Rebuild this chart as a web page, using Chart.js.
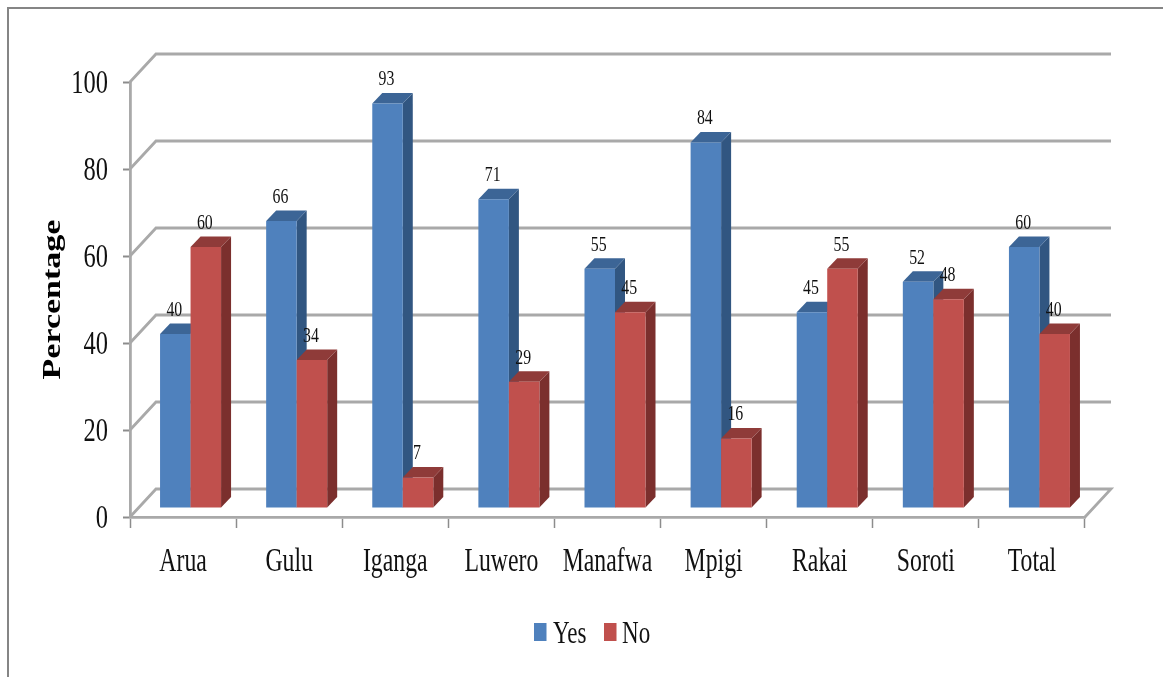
<!DOCTYPE html>
<html>
<head>
<meta charset="utf-8">
<script src="https://cdn.jsdelivr.net/npm/chart.js@4/dist/chart.umd.min.js"></script>
<style>
    html, body { margin: 0; padding: 0; background: #fff; }
    #wrap { width: 1163px; height: 677px; }
</style>
</head>
<body>
<div id="wrap"><canvas id="bars"></canvas></div>
<script>
const districts = ["Arua", "Gulu", "Iganga", "Luwero", "Manafwa", "Mpigi", "Rakai", "Soroti", "Total"];
const yesValues = [40, 66, 93, 71, 55, 84, 45, 52, 60];
const noValues = [60, 34, 7, 29, 45, 16, 55, 48, 40];

const FONT = "'Liberation Serif', serif";
const C_GRID = "#a9a9a9";
const C_FRAME = "#858585";
const YES = { front: "#4f81bd", side: "#315681", top: "#3c6596" };
const NO = { front: "#c0504d", side: "#7b2f2d", top: "#8f3b39" };

// the type is set narrow: every string is squeezed across the page
const SQUEEZE = 0.72;
// depth of the floor and walls, and of a single bar
const WALL_DX = 26, WALL_DY = 28;
const BAR_DX = 10, BAR_DY = 10.5;
// bars stand on the floor, a little behind the front axis
const BAR_SHIFT_X = 7.5, BAR_SHIFT_Y = 9;

const canvas = document.getElementById("bars");
const ctx = canvas.getContext("2d");

const rawFillText = ctx.fillText;
const rawMeasureText = ctx.measureText;
ctx.fillText = function (text, x, y) {
    this.save();
    this.translate(x, y);
    const rotated = Math.abs(this.getTransform().b) > 0.5;
    if (rotated) this.scale(1, SQUEEZE);
    else this.scale(SQUEEZE, 1);
    rawFillText.call(this, text, 0, 0);
    this.restore();
};
ctx.measureText = function (text) {
    return { width: rawMeasureText.call(this, text).width * SQUEEZE };
};

function poly(c, color, pts) {
    c.fillStyle = color;
    c.beginPath();
    pts.forEach(([x, y], i) => i ? c.lineTo(x, y) : c.moveTo(x, y));
    c.closePath();
    c.fill();
}

function drawFrame(c) {
    c.strokeStyle = C_FRAME;
    c.lineWidth = 2;
    c.beginPath();
    c.moveTo(8, 677);
    c.lineTo(8, 8);
    c.lineTo(1163, 8);
    c.stroke();
}

// back wall lines with their return to the front axis, plus the floor edge
function drawWalls(chart) {
    const c = chart.ctx;
    const { left, right } = chart.chartArea;
    const y = chart.scales.y;
    c.save();
    c.strokeStyle = C_GRID;
    c.lineWidth = 2.8;
    y.ticks.forEach(t => {
        const py = y.getPixelForValue(t.value);
        c.beginPath();
        c.moveTo(left, py);
        c.lineTo(left + WALL_DX, py - WALL_DY);
        c.lineTo(right + WALL_DX, py - WALL_DY);
        if (t.value === 0) c.lineTo(right, py);
        c.stroke();
    });
    c.restore();
}

function drawBarFaces(c, bar, faces) {
    const x0 = bar.x - bar.width / 2, x1 = bar.x + bar.width / 2;
    poly(c, faces.side, [[x1, bar.y], [x1 + BAR_DX, bar.y - BAR_DY], [x1 + BAR_DX, bar.base - BAR_DY], [x1, bar.base]]);
    poly(c, faces.top, [[x0, bar.y], [x0 + BAR_DX, bar.y - BAR_DY], [x1 + BAR_DX, bar.y - BAR_DY], [x1, bar.y]]);
}

function drawValueLabels(chart) {
    const c = chart.ctx;
    c.save();
    c.fillStyle = "#111";
    c.font = "22px " + FONT;
    c.textAlign = "center";
    c.textBaseline = "middle";
    chart.data.datasets.forEach((ds, i) => {
        chart.getDatasetMeta(i).data.forEach((bar, j) => {
            c.fillText(String(ds.data[j]), bar.x + BAR_SHIFT_X - 1, bar.y - BAR_SHIFT_Y - 24);
        });
    });
    c.restore();
}

function drawLegend(chart) {
    const c = chart.ctx;
    const entries = [[534, 553], [604, 622]];
    c.save();
    c.font = "32px " + FONT;
    c.textAlign = "left";
    c.textBaseline = "middle";
    chart.data.datasets.forEach((ds, i) => {
        c.fillStyle = ds.backgroundColor;
        c.fillRect(entries[i][0], 623, 12.5, 18);
        c.fillStyle = "#111";
        c.fillText(ds.label, entries[i][1], 635);
    });
    c.restore();
}

const box3d = {
    id: "box3d",
    beforeDraw(chart) {
        drawFrame(chart.ctx);
    },
    // walls first, then the series left to right so red sits in front of blue
    beforeDatasetsDraw(chart) {
        const c = chart.ctx;
        drawWalls(chart);
        chart.data.datasets.forEach((ds, i) => {
            const meta = chart.getDatasetMeta(i);
            c.save();
            c.translate(BAR_SHIFT_X, -BAR_SHIFT_Y);
            meta.data.forEach(bar => drawBarFaces(c, bar, ds.faces));
            meta.controller.draw();
            c.restore();
        });
        drawValueLabels(chart);
        drawLegend(chart);
        return false;
    }
};

new Chart(ctx, {
    type: "bar",
    data: {
        labels: districts,
        datasets: [
            { label: "Yes", data: yesValues, backgroundColor: YES.front, faces: YES },
            { label: "No", data: noValues, backgroundColor: NO.front, faces: NO }
        ]
    },
    options: {
        responsive: true,
        maintainAspectRatio: false,
        animation: false,
        events: [],
        categoryPercentage: 0.575,
        barPercentage: 1,
        layout: { padding: { left: 0, top: 82, right: 78, bottom: 0 } },
        plugins: {
            legend: { display: false },
            tooltip: { enabled: false }
        },
        scales: {
            x: {
                afterFit: (scale) => { scale.height = 160; },
                border: { color: C_GRID, width: 2.8 },
                grid: { drawOnChartArea: false, drawTicks: true, tickLength: 11, tickColor: "#8c8c8c", tickWidth: 1.5 },
                ticks: {
                    color: "#111",
                    font: { family: FONT, size: 33 },
                    padding: 15,
                    maxRotation: 0,
                    autoSkip: false
                }
            },
            y: {
                min: 0,
                max: 100,
                afterFit: (scale) => { scale.width = 130; },
                border: { color: C_GRID, width: 2.8 },
                grid: { drawOnChartArea: false, drawTicks: true, tickLength: 7, tickColor: "#8c8c8c", tickWidth: 2 },
                ticks: {
                    stepSize: 20,
                    color: "#111",
                    font: { family: FONT, size: 34 },
                    padding: 15,
                    labelOffset: 2.5
                },
                title: {
                    display: true,
                    text: "Percentage",
                    color: "#000",
                    font: { family: FONT, size: 34, weight: "bold" },
                    padding: { top: 33, bottom: 0 }
                }
            }
        }
    },
    plugins: [box3d]
});
</script>
</body>
</html>
